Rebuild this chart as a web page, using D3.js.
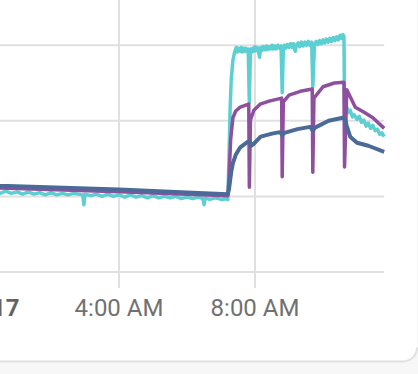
<!DOCTYPE html>
<html>
<head>
<meta charset="utf-8">
<script src="https://cdn.jsdelivr.net/npm/d3@7"></script>
<style>
  html, body { margin: 0; padding: 0; background: #f7f7f7; }
  svg { display: block; }
</style>
</head>
<body>
<div id="chart"></div>
<script>
// ticks shown under the chart
const tickTimes = ['00:00', '04:00', '08:00']
const gridValues = [0, 10, 20, 30]

// series, [time, value]
const cyanSeries = [
  ['00:00', 10.8], ['00:10', 10.5], ['00:20', 10.7], ['00:30', 10.4], ['00:40', 10.7],
  ['00:50', 10.4], ['01:00', 10.6], ['01:10', 10.3], ['01:20', 10.6], ['01:30', 10.3],
  ['01:40', 10.5], ['01:50', 10.2], ['02:00', 10.5], ['02:10', 10.2], ['02:20', 10.4],
  ['02:30', 10.2], ['02:40', 10.4], ['02:56', 10.2], ['02:58', 8.9], ['03:00', 10.3],
  ['03:10', 10.1], ['03:20', 10.3], ['03:30', 10.0], ['03:40', 10.3], ['03:50', 10.0],
  ['04:00', 10.2], ['04:10', 9.9], ['04:20', 10.2], ['04:30', 9.9], ['04:40', 10.1],
  ['04:50', 9.8], ['05:00', 10.1], ['05:10', 9.8], ['05:20', 10.0], ['05:30', 9.8],
  ['05:40', 10.0], ['05:50', 9.7], ['06:00', 9.9], ['06:10', 9.7], ['06:20', 9.9],
  ['06:28', 9.7], ['06:30', 8.9], ['06:32', 9.8], ['06:40', 9.6], ['06:50', 9.8],
  ['07:00', 9.6], ['07:10', 9.7], ['07:12', 9.6],
  ['07:14', 14.8], ['07:16', 21.4], ['07:18', 25.4], ['07:21', 28.0], ['07:24', 29.1],
  ['07:27', 29.7], ['07:29', 29.1], ['07:31', 29.6], ['07:34', 29.2], ['07:36', 29.7],
  ['07:38', 29.1], ['07:40', 29.6], ['07:42', 29.2], ['07:44', 29.6], ['07:46', 29.2],
  ['07:48', 29.5], ['07:50', 22.4], ['07:52', 29.5], ['07:54', 29.1], ['07:56', 29.6],
  ['07:58', 29.2], ['08:00', 29.8], ['08:02', 29.3], ['08:04', 29.7], ['08:06', 29.3],
  ['08:08', 28.4], ['08:10', 29.7], ['08:12', 29.3], ['08:14', 29.8], ['08:17', 29.4],
  ['08:20', 29.9], ['08:22', 29.4], ['08:24', 29.8], ['08:27', 29.5], ['08:30', 30.0],
  ['08:32', 29.5], ['08:34', 29.9], ['08:37', 29.5], ['08:40', 30.0], ['08:43', 29.6],
  ['08:46', 29.9], ['08:48', 23.7], ['08:50', 29.6], ['08:52', 30.0], ['08:54', 29.6],
  ['08:57', 30.1], ['09:00', 29.7], ['09:03', 30.2], ['09:06', 29.7], ['09:08', 30.2],
  ['09:11', 29.2], ['09:13', 30.0], ['09:16', 30.3], ['09:19', 29.8], ['09:22', 30.4],
  ['09:25', 29.9], ['09:28', 30.4], ['09:31', 30.0], ['09:34', 30.5], ['09:37', 30.0],
  ['09:40', 30.4], ['09:42', 24.5], ['09:45', 30.1], ['09:48', 30.5], ['09:51', 30.1],
  ['09:54', 30.6], ['09:57', 30.2], ['10:00', 30.7], ['10:03', 30.3], ['10:06', 30.8],
  ['10:09', 30.4], ['10:12', 30.9], ['10:15', 30.5], ['10:18', 31.0], ['10:21', 30.6],
  ['10:24', 31.1], ['10:27', 30.7], ['10:30', 31.3], ['10:33', 30.9], ['10:35', 31.4],
  ['10:37', 31.1], ['10:38', 22.0], ['10:42', 21.8], ['10:45', 21.1], ['10:48', 21.4],
  ['10:52', 20.5], ['10:55', 20.8], ['11:00', 20.2], ['11:04', 20.6], ['11:08', 19.8],
  ['11:12', 20.1], ['11:16', 19.3], ['11:20', 19.7], ['11:24', 19.0], ['11:28', 19.4],
  ['11:32', 18.7], ['11:36', 18.9], ['11:40', 18.2], ['11:44', 18.4], ['11:48', 17.9]
]

const purpleSeries = [
  ['00:00', 11.4], ['00:30', 11.1], ['04:00', 10.6], ['07:12', 10.1],
  ['07:14', 12.2], ['07:17', 17.5], ['07:21', 20.4], ['07:26', 21.3], ['07:34', 21.8],
  ['07:45', 22.1], ['07:49', 22.2], ['07:50', 11.2], ['07:52', 20.1], ['07:58', 21.4],
  ['08:09', 22.2], ['08:25', 22.6], ['08:47', 23.0], ['08:48', 12.6], ['08:50', 22.5],
  ['09:00', 23.4], ['09:20', 23.9], ['09:41', 24.2], ['09:42', 13.2], ['09:44', 23.0],
  ['10:00', 24.5], ['10:20', 25.0], ['10:37', 25.1], ['10:38', 13.9], ['10:42', 24.1],
  ['10:57', 21.8], ['11:11', 21.2], ['11:28', 20.4], ['11:48', 19.0]
]

const blueSeries = [
  ['00:00', 11.6], ['00:30', 11.4], ['04:00', 10.9], ['06:00', 10.5], ['07:12', 10.3],
  ['07:14', 10.9], ['07:18', 13.2], ['07:21', 14.4], ['07:26', 15.5], ['07:34', 16.5],
  ['07:47', 17.2], ['07:51', 17.3], ['07:53', 16.7], ['07:57', 16.9], ['08:10', 17.9],
  ['08:30', 18.3], ['08:44', 18.5], ['08:48', 18.1], ['08:52', 18.4], ['09:15', 18.9],
  ['09:37', 19.2], ['09:42', 18.7], ['09:46', 19.1], ['10:10', 20.0], ['10:35', 20.4],
  ['10:39', 20.2], ['10:42', 19.3], ['10:48', 17.9], ['11:00', 17.1], ['11:20', 16.7],
  ['11:48', 15.9]
]

const W = 418
const H = 374
const parse = d3.timeParse('%Y-%m-%d %H:%M')
const day = '2024-02-17'
const t = s => parse(day + ' ' + s)

const x = d3.scaleTime()
  .domain([t('00:00'), t('11:48')])
  .range([-17, 384.2])

const y = d3.scaleLinear()
  .domain([0, 40])
  .range([272, -30.4])

const svg = d3.select('#chart').append('svg')
  .attr('width', W)
  .attr('height', H)

// card
const r = 14
svg.append('path')
  .attr('d', `M-2,-2 H417 V${361.5 - r} A${r},${r} 0 0 1 ${417 - r},361.5 H-2 Z`)
  .attr('fill', '#fff')

const defs = svg.append('defs')
const grad = defs.append('linearGradient')
  .attr('id', 'edge').attr('x1', 0).attr('y1', 0).attr('x2', 0).attr('y2', 1)
grad.append('stop').attr('offset', '0%').attr('stop-color', '#e0e0e0').attr('stop-opacity', 0)
grad.append('stop').attr('offset', '60%').attr('stop-color', '#e0e0e0').attr('stop-opacity', 1)

svg.append('path')
  .attr('d', `M-2,361.5 H${417 - r} A${r},${r} 0 0 0 417,${361.5 - r}`)
  .attr('fill', 'none')
  .attr('stroke', '#e0e0e0')
  .attr('stroke-width', 2)
svg.append('line')
  .attr('x1', 417).attr('x2', 417)
  .attr('y1', 300).attr('y2', 361.5 - r)
  .attr('stroke', 'url(#edge)')
  .attr('stroke-width', 2)

// grid
const grid = svg.append('g')
grid.selectAll('.hgrid')
  .data(gridValues)
  .enter()
  .append('line')
  .attr('x1', 0)
  .attr('x2', x(t('11:48')))
  .attr('y1', d => y(d))
  .attr('y2', d => y(d))
  .attr('stroke', '#e0e0e0')
  .attr('stroke-width', 2)

grid.selectAll('.vgrid')
  .data(tickTimes)
  .enter()
  .append('line')
  .attr('x1', d => x(t(d)))
  .attr('x2', d => x(t(d)))
  .attr('y1', -10)
  .attr('y2', 288)
  .attr('stroke', '#e0e0e0')
  .attr('stroke-width', 2)

svg.selectAll('.tick-label')
  .data(tickTimes)
  .enter()
  .append('text')
  .attr('x', d => x(t(d)))
  .attr('y', 316)
  .attr('text-anchor', 'middle')
  .attr('font-family', 'Roboto, sans-serif')
  .attr('font-size', 24)
  .attr('font-weight', d => d === '00:00' ? 700 : 400)
  .attr('fill', d => d === '00:00' ? '#636363' : '#717171')
  .text(d => d === '00:00' ? d3.timeFormat('%b %-d')(t(d)) : d3.timeFormat('%-I:%M %p')(t(d)))

const line = d3.line()
  .x(d => x(t(d[0])))
  .y(d => y(d[1]))

const series = [
  { data: cyanSeries, color: '#5ccfd2', w: 3.5 },
  { data: purpleSeries, color: '#8e4f9f', w: 3.5 },
  { data: blueSeries, color: '#4b6a98', w: 4 }
]

svg.selectAll('.series')
  .data(series)
  .enter()
  .append('path')
  .attr('d', d => line(d.data))
  .attr('fill', 'none')
  .attr('stroke', d => d.color)
  .attr('stroke-width', d => d.w)
  .attr('stroke-linejoin', 'round')
</script>
</body>
</html>
